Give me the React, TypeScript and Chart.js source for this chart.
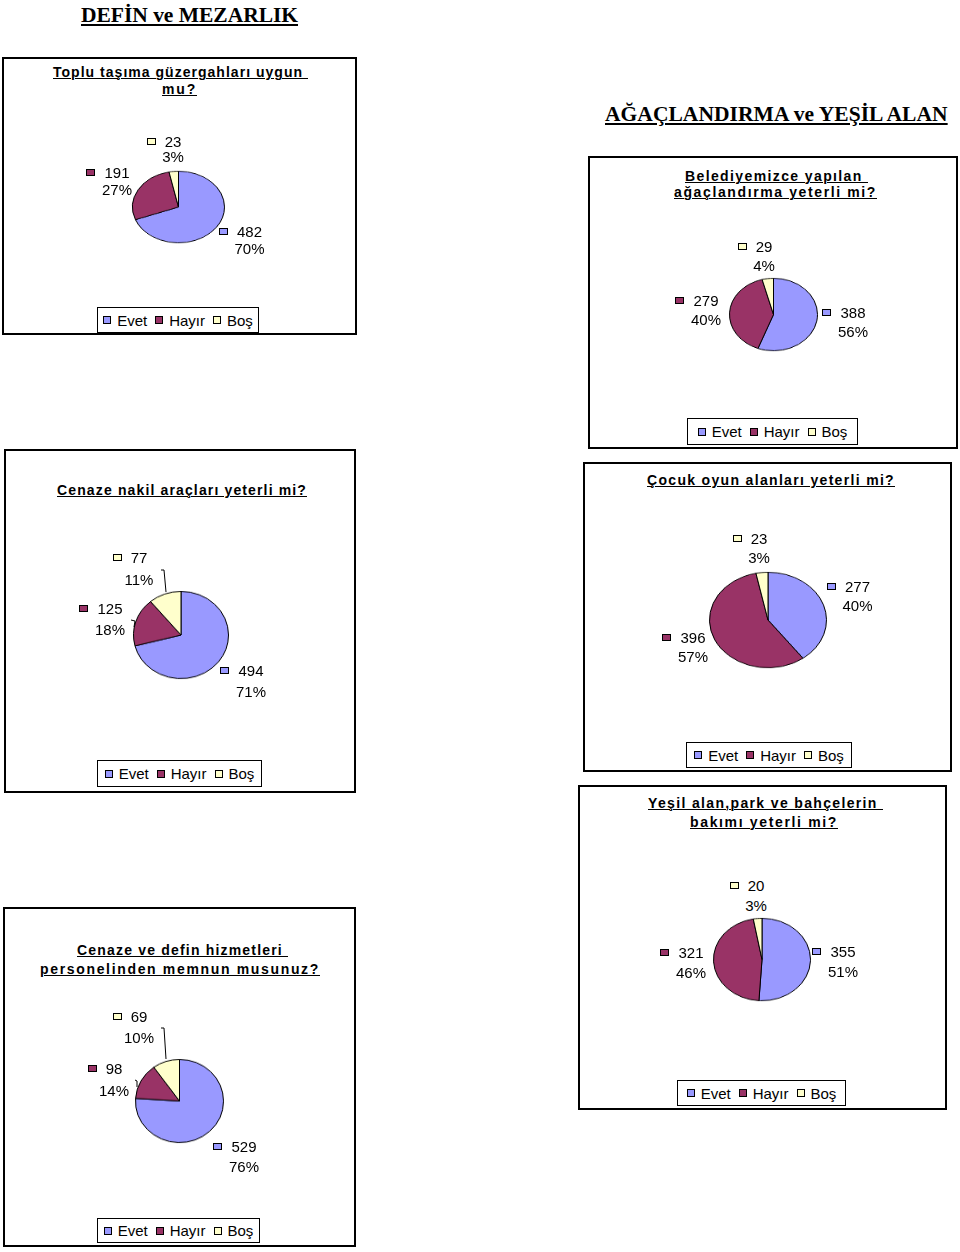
import React, { useEffect, useRef } from "react";
import { Chart, registerables } from "chart.js";

Chart.register(...registerables);

// ---------- DATA ----------
const categories = ["Evet", "Hayır", "Boş"];
const sliceColors = ["#9999FF", "#993366", "#FFFFCC"];

const headerDefin = "DEFİN ve MEZARLIK";
const headerAgac = "AĞAÇLANDIRMA ve YEŞİL ALAN";

const topluTitle = ["Toplu taşıma güzergahları uygun ", "mu?"];
const topluValues = [482, 191, 23];
const topluPercents = ["70%", "27%", "3%"];

const agacTitle = ["Belediyemizce yapılan ", "ağaçlandırma yeterli mi?"];
const agacValues = [388, 279, 29];
const agacPercents = ["56%", "40%", "4%"];

const nakilTitle = ["Cenaze nakil araçları yeterli mi?"];
const nakilValues = [494, 125, 77];
const nakilPercents = ["71%", "18%", "11%"];

const cocukTitle = ["Çocuk oyun alanları yeterli mi?"];
const cocukValues = [277, 396, 23];
const cocukPercents = ["40%", "57%", "3%"];

const yesilTitle = ["Yeşil alan,park ve bahçelerin ", "bakımı yeterli mi?"];
const yesilValues = [355, 321, 20];
const yesilPercents = ["51%", "46%", "3%"];

const personelTitle = ["Cenaze ve defin hizmetleri ", "personelinden memnun musunuz?"];
const personelValues = [529, 98, 69];
const personelPercents = ["76%", "14%", "10%"];

// ---------- LAYOUT ----------
type Rect = { x: number; y: number; w: number; h: number };
type LabelPos = { cx: number; y1: number; y2: number };
type Panel = {
  box: Rect;
  titles: string[];
  titlePos: { x: number; base: number; w: number }[];
  values: number[];
  percents: string[];
  pie: Rect;
  labels: LabelPos[]; // order: Evet, Hayır, Boş
  legend: Rect;
  leaders: number[][][];
};

const panels: Panel[] = [
  {
    box: { x: 2, y: 57, w: 355, h: 278 },
    titles: topluTitle,
    titlePos: [
      { x: 53, base: 77, w: 255 },
      { x: 162, base: 94, w: 35 },
    ],
    values: topluValues,
    percents: topluPercents,
    pie: { x: 132, y: 171, w: 92, h: 71 },
    labels: [
      { cx: 249.5, y1: 232, y2: 249 },
      { cx: 117, y1: 173, y2: 190 },
      { cx: 173, y1: 142, y2: 157 },
    ],
    legend: { x: 97, y: 307, w: 162, h: 26 },
    leaders: [],
  },
  {
    box: { x: 588, y: 156, w: 370, h: 293 },
    titles: agacTitle,
    titlePos: [
      { x: 685, base: 181, w: 183 },
      { x: 674, base: 197, w: 203 },
    ],
    values: agacValues,
    percents: agacPercents,
    pie: { x: 729, y: 278, w: 88, h: 72 },
    labels: [
      { cx: 853, y1: 313, y2: 332 },
      { cx: 706, y1: 301, y2: 320 },
      { cx: 764, y1: 247, y2: 266 },
    ],
    legend: { x: 687, y: 418, w: 171, h: 27 },
    leaders: [],
  },
  {
    box: { x: 4, y: 449, w: 352, h: 344 },
    titles: nakilTitle,
    titlePos: [{ x: 57, base: 495, w: 250 }],
    values: nakilValues,
    percents: nakilPercents,
    pie: { x: 133, y: 591, w: 95, h: 87 },
    labels: [
      { cx: 251, y1: 671, y2: 692 },
      { cx: 110, y1: 609, y2: 630 },
      { cx: 139, y1: 558, y2: 580 },
    ],
    legend: { x: 97, y: 760, w: 165, h: 27 },
    leaders: [
      [
        [161, 570],
        [164, 570],
        [166, 592],
      ],
      [
        [131, 620],
        [135, 621],
        [134, 627],
      ],
    ],
  },
  {
    box: { x: 583, y: 462, w: 369, h: 310 },
    titles: cocukTitle,
    titlePos: [{ x: 647, base: 485, w: 248 }],
    values: cocukValues,
    percents: cocukPercents,
    pie: { x: 709, y: 572, w: 117, h: 95 },
    labels: [
      { cx: 857.5, y1: 587, y2: 606 },
      { cx: 693, y1: 638, y2: 657 },
      { cx: 759, y1: 539, y2: 558 },
    ],
    legend: { x: 686, y: 742, w: 166, h: 26 },
    leaders: [],
  },
  {
    box: { x: 578, y: 785, w: 369, h: 325 },
    titles: yesilTitle,
    titlePos: [
      { x: 648, base: 808, w: 235 },
      { x: 690, base: 827, w: 148 },
    ],
    values: yesilValues,
    percents: yesilPercents,
    pie: { x: 713, y: 918, w: 97, h: 82 },
    labels: [
      { cx: 843, y1: 952, y2: 972 },
      { cx: 691, y1: 953, y2: 973 },
      { cx: 756, y1: 886, y2: 906 },
    ],
    legend: { x: 677, y: 1080, w: 169, h: 26 },
    leaders: [],
  },
  {
    box: { x: 3, y: 907, w: 353, h: 340 },
    titles: personelTitle,
    titlePos: [
      { x: 77, base: 955, w: 211 },
      { x: 40, base: 974, w: 280 },
    ],
    values: personelValues,
    percents: personelPercents,
    pie: { x: 135, y: 1059, w: 88, h: 83 },
    labels: [
      { cx: 244, y1: 1147, y2: 1167 },
      { cx: 114, y1: 1069, y2: 1091 },
      { cx: 139, y1: 1017, y2: 1038 },
    ],
    legend: { x: 97, y: 1218, w: 163, h: 25 },
    leaders: [
      [
        [161, 1028],
        [164, 1028],
        [166, 1059],
      ],
      [
        [135, 1080],
        [137, 1081],
        [137, 1087],
      ],
    ],
  },
];

// ---------- HELPERS ----------
const measureCtx = document.createElement("canvas").getContext("2d")!;
function fitSpacing(text: string, font: string, target: number) {
  measureCtx.font = font;
  const w = measureCtx.measureText(text).width;
  const n = Array.from(text).length;
  return (target - w) / n;
}

const SANS = "'Liberation Sans', Arial, sans-serif";
const SERIF = "'Liberation Serif', 'Times New Roman', serif";

function FitLine({
  text,
  x,
  base,
  w,
  size,
  family,
  asc,
  desc,
}: {
  text: string;
  x: number;
  base: number;
  w: number;
  size: number;
  family: string;
  asc: number;
  desc: number;
}) {
  const lh = Math.round(size * 1.25);
  const font = `bold ${size}px ${family}`;
  const ls = fitSpacing(text, font, w);
  const top = base - (lh - (asc + desc) * size) / 2 - asc * size;
  return (
    <div
      style={{
        position: "absolute",
        left: x,
        top,
        whiteSpace: "pre",
        font,
        lineHeight: `${lh}px`,
        letterSpacing: `${ls}px`,
        textDecoration: "underline",
        textDecorationThickness: size > 16 ? "2px" : "1px",
        textUnderlineOffset: size > 16 ? "2px" : "1px",
        color: "#000",
      }}
    >
      {text}
    </div>
  );
}

function Marker({ color, w = 8, h = 8 }: { color: string; w?: number; h?: number }) {
  return (
    <span
      style={{
        display: "inline-block",
        width: w,
        height: h,
        boxSizing: "border-box",
        border: "1px solid #000",
        background: color,
      }}
    />
  );
}

function PieCanvas({ values, rect }: { values: number[]; rect: Rect }) {
  const ref = useRef<HTMLCanvasElement>(null);
  const W = rect.w + 3;
  useEffect(() => {
    const chart = new Chart(ref.current!, {
      type: "pie",
      data: {
        labels: categories,
        datasets: [
          {
            data: values,
            backgroundColor: sliceColors,
            borderColor: "#000",
            borderWidth: 1,
          },
        ],
      },
      options: {
        responsive: false,
        animation: false,
        events: [],
        layout: { padding: 1 },
        plugins: { legend: { display: false }, tooltip: { enabled: false } },
      },
    });
    return () => chart.destroy();
  }, []);
  return (
    <div
      style={{
        position: "absolute",
        left: rect.x - 1.5,
        top: rect.y - 1.5,
        width: W,
        height: W,
        transform: `scaleY(${(rect.h + 3) / W})`,
        transformOrigin: "0 0",
      }}
    >
      <canvas ref={ref} width={W} height={W} style={{ display: "block" }} />
    </div>
  );
}

function DataLabel({ pos, value, pct, color }: { pos: LabelPos; value: number; pct: string; color: string }) {
  const common: React.CSSProperties = {
    position: "absolute",
    left: pos.cx - 40,
    width: 80,
    textAlign: "center",
    font: `15px ${SANS}`,
    lineHeight: "18px",
    color: "#000",
    whiteSpace: "nowrap",
  };
  return (
    <>
      <div style={{ ...common, top: pos.y1 - 9 }}>
        <span style={{ position: "relative", display: "inline-block" }}>
          <span style={{ position: "absolute", left: -18, top: 5, display: "flex" }}>
            <Marker color={color} w={9} h={7} />
          </span>
          {String(value)}
        </span>
      </div>
      <div style={{ ...common, top: pos.y2 - 9 }}>{pct}</div>
    </>
  );
}

function Legend({ rect }: { rect: Rect }) {
  return (
    <div
      style={{
        position: "absolute",
        left: rect.x,
        top: rect.y,
        width: rect.w,
        height: rect.h,
        boxSizing: "border-box",
        border: "1.5px solid #000",
        background: "#fff",
        display: "flex",
        alignItems: "center",
        justifyContent: "center",
        font: `15px ${SANS}`,
        color: "#000",
      }}
    >
      {categories.map((c, i) => (
        <span key={c} style={{ display: "flex", alignItems: "center", marginRight: i < 2 ? 8 : 0 }}>
          <span style={{ marginRight: 6, display: "flex" }}>
            <Marker color={sliceColors[i]} />
          </span>
          {c}
        </span>
      ))}
    </div>
  );
}

function PanelView({ p }: { p: Panel }) {
  return (
    <>
      <div
        style={{
          position: "absolute",
          left: p.box.x,
          top: p.box.y,
          width: p.box.w,
          height: p.box.h,
          boxSizing: "border-box",
          border: "2px solid #000",
          background: "#fff",
        }}
      />
      {p.titles.map((t, i) => (
        <FitLine
          key={i}
          text={t}
          x={p.titlePos[i].x}
          base={p.titlePos[i].base}
          w={p.titlePos[i].w}
          size={14}
          family={SANS}
          asc={0.905}
          desc={0.212}
        />
      ))}
      <PieCanvas values={p.values} rect={p.pie} />
      {p.labels.map((l, i) => (
        <DataLabel key={i} pos={l} value={p.values[i]} pct={p.percents[i]} color={sliceColors[i]} />
      ))}
      <Legend rect={p.legend} />
    </>
  );
}

export default function App() {
  return (
    <div
      style={{
        position: "absolute",
        left: 0,
        top: 0,
        width: 960,
        height: 1252,
        background: "#fff",
        overflow: "hidden",
      }}
    >
      <FitLine text={headerDefin} x={81} base={23} w={217} size={21.5} family={SERIF} asc={0.891} desc={0.216} />
      <FitLine text={headerAgac} x={605} base={122} w={347} size={21.5} family={SERIF} asc={0.891} desc={0.216} />
      {panels.map((p, i) => (
        <PanelView key={i} p={p} />
      ))}
      <svg
        width={960}
        height={1252}
        style={{ position: "absolute", left: 0, top: 0, pointerEvents: "none" }}
      >
        {panels.flatMap((p, i) =>
          p.leaders.map((pts, j) => (
            <polyline
              key={`${i}-${j}`}
              points={pts.map((q) => q.join(",")).join(" ")}
              fill="none"
              stroke="#000"
              strokeWidth={1}
            />
          ))
        )}
      </svg>
    </div>
  );
}
